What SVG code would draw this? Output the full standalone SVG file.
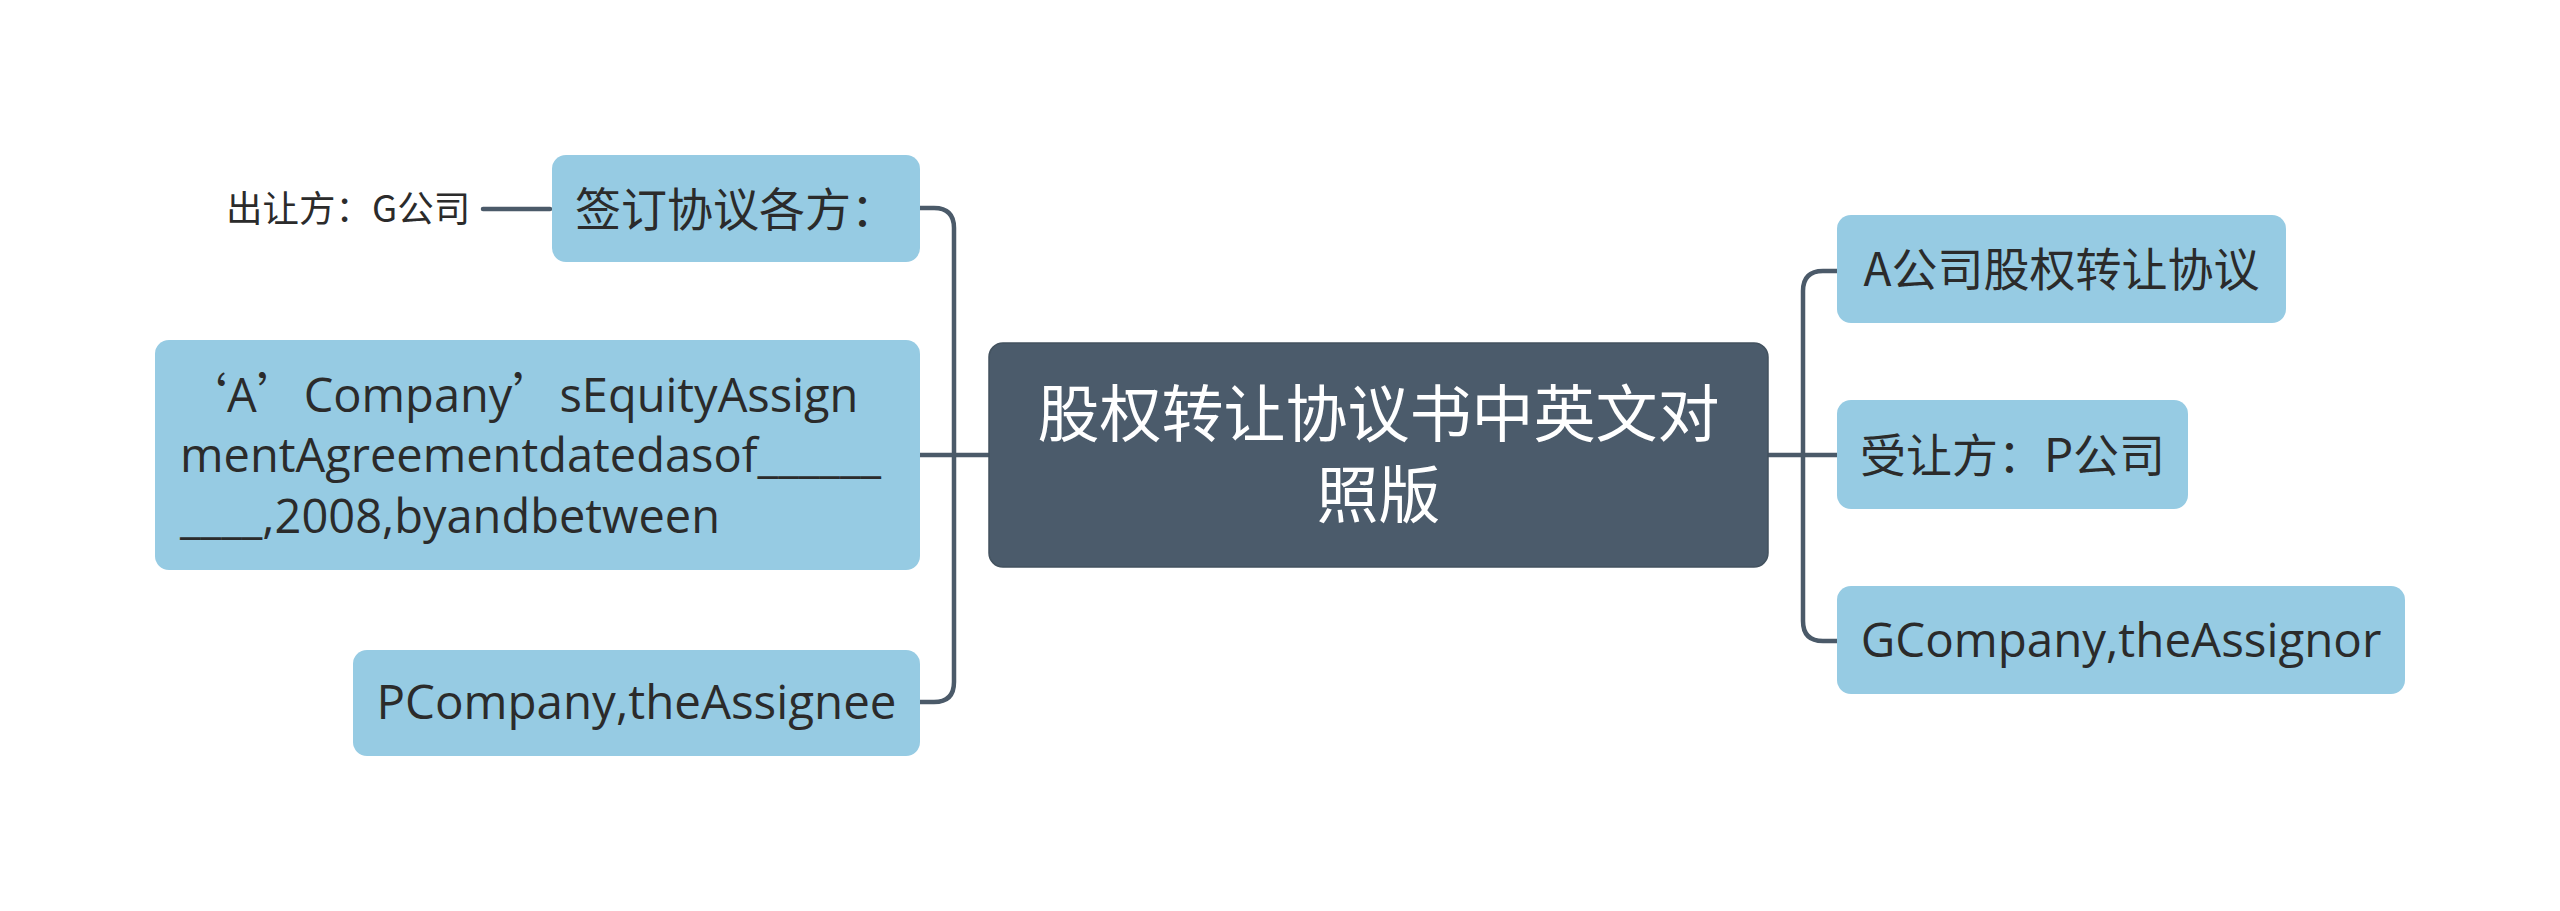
<svg xmlns="http://www.w3.org/2000/svg" width="2560" height="911" viewBox="0 0 2560 911">
<style>
.box{fill:#96cbe3;}
.root{fill:#4b5b6b;stroke:#43525f;stroke-width:1.5;}
.conn{fill:none;stroke:#4b5a69;stroke-width:4.5;stroke-linecap:round;}
.cjk{font-family:"Noto Sans CJK SC","Open Sans",sans-serif;fill:#2b2b2b;}
.lat{font-family:"Open Sans","Noto Sans CJK SC",sans-serif;fill:#2b2b2b;}
.q{font-family:"Noto Sans CJK SC",sans-serif;}
</style>
<rect width="2560" height="911" fill="#ffffff"/>
<g id="connectors">
<path class="conn" d="M483,209 H550"/>
<path class="conn" d="M920,208 H934 Q954,208 954,228 V682 Q954,702 934,702 H920"/>
<path class="conn" d="M920,455 H989"/>
<path class="conn" d="M1768,455 H1837"/>
<path class="conn" d="M1837,271 H1823 Q1803,271 1803,291 V621 Q1803,641 1823,641 H1837"/>
</g>
<g id="root">
<rect class="root" x="989" y="343" width="779" height="224" rx="14"/>
<text class="cjk" x="1378.5" y="437" font-size="62" text-anchor="middle" style="fill:#ffffff">股权转让协议书中英文对</text>
<text class="cjk" x="1378.5" y="518" font-size="62" text-anchor="middle" style="fill:#ffffff">照版</text>
</g>
<g id="n-parties">
<rect class="box" x="552" y="155" width="368" height="107" rx="14"/>
<text class="cjk" x="736" y="226" font-size="46" text-anchor="middle">签订协议各方：</text>
</g>
<g id="n-assignor-label">
<text class="cjk" x="226" y="222" font-size="36.5">出让方：G公司</text>
</g>
<g id="n-title-en">
<rect class="box" x="155" y="340" width="765" height="230" rx="14"/>
<text class="lat" x="180" y="412" font-size="47"><tspan class="q">‘</tspan>A<tspan class="q">’</tspan>Company<tspan class="q">’</tspan>sEquityAssign</text>
<text class="lat" x="180" y="472" font-size="47">mentAgreementdatedasof______</text>
<text class="lat" x="180" y="533" font-size="47">____,2008,byandbetween</text>
</g>
<g id="n-assignee-en">
<rect class="box" x="353" y="650" width="567" height="106" rx="14"/>
<text class="lat" x="636.5" y="719" font-size="47.5" text-anchor="middle">PCompany,theAssignee</text>
</g>
<g id="n-title-cn">
<rect class="box" x="1837" y="215" width="449" height="108" rx="14"/>
<text class="cjk" x="2061.5" y="286" font-size="46" text-anchor="middle">A公司股权转让协议</text>
</g>
<g id="n-assignee-cn">
<rect class="box" x="1837" y="400" width="351" height="109" rx="14"/>
<text class="cjk" x="2012.5" y="472" font-size="46" text-anchor="middle">受让方：P公司</text>
</g>
<g id="n-assignor-en">
<rect class="box" x="1837" y="586" width="568" height="108" rx="14"/>
<text class="lat" x="2121" y="657" font-size="47.5" text-anchor="middle">GCompany,theAssignor</text>
</g>
</svg>
